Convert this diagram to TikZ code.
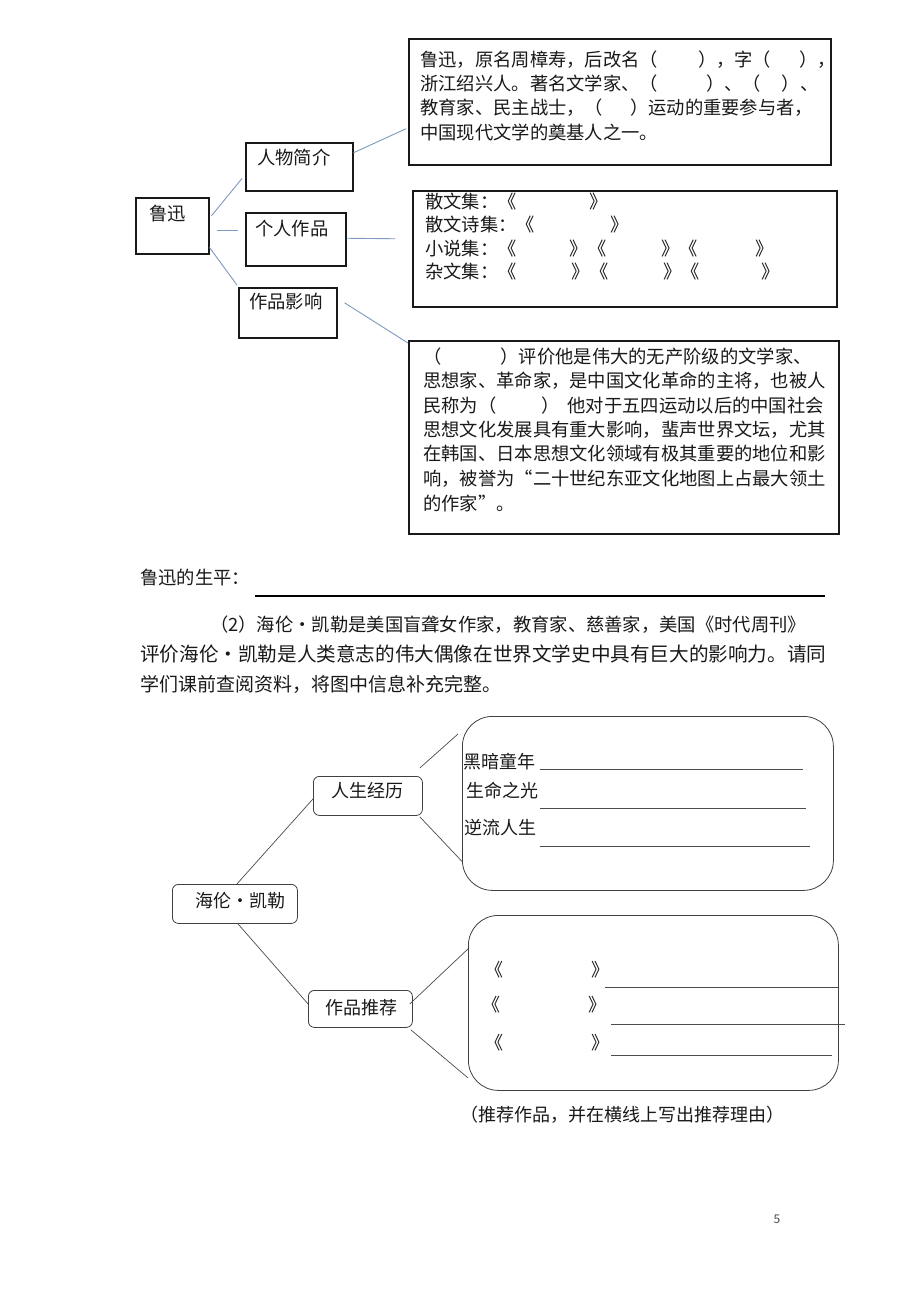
\documentclass[tikz,border=0pt]{standalone}
\usepackage{fontspec}
\newfontfamily\cjk{Noto Sans CJK SC}
\usetikzlibrary{calc}
\newcommand\gp[1]{\hspace*{#1pt}}
\definecolor{lnblue}{RGB}{125,155,190}
\begin{document}
\begin{tikzpicture}[x=1pt,y=-1pt,
 box/.style={draw=black!90,line width=1.5pt,inner sep=0pt,anchor=north west},
 rbox/.style={draw=black!75,line width=0.8pt,inner sep=0pt,anchor=north west,rounded corners=#1},
 txt/.style={anchor=west,inner sep=0pt,font=\cjk\fontsize{18.3}{22}\selectfont,text=black!90},
 ptxt/.style={txt,font=\cjk\fontsize{19}{22}\selectfont},
 btxt/.style={txt,font=\cjk\fontsize{18}{22}\selectfont},
 bl/.style={draw=lnblue,line width=0.9pt},
 kl/.style={draw=black!70,line width=0.7pt},
 ul/.style={draw=black!70,line width=0.8pt}]
\useasboundingbox[fill=white] (0,0) rectangle (920,1302);

% ---- top diagram boxes
\node[box,minimum width=422pt,minimum height=126pt] (intro) at (408,38) {};
\node[box,minimum width=107pt,minimum height=48pt] (rw) at (245,142) {};
\node[box,minimum width=73pt,minimum height=56pt] (lx) at (135,197) {};
\node[box,minimum width=100pt,minimum height=53pt] (zp) at (245,212) {};
\node[box,minimum width=98pt,minimum height=50pt] (yx) at (238,287) {};
\node[box,minimum width=424pt,minimum height=116pt] (works) at (412,190) {};
\node[box,minimum width=430pt,minimum height=193pt] (infl) at (408,340) {};

\node[txt] (t-rw) at (257,157) {人物简介};
\node[txt] (t-lx) at (149,214) {鲁迅};
\node[txt] (t-zp) at (255,229) {个人作品};
\node[txt] (t-yx) at (249,302) {作品影响};

\draw[bl] ([shift={(2pt,10pt)}]lx.east) -- ([shift={(-3pt,13pt)}]rw.south west);
\draw[bl] ([shift={(7pt,-5pt)}]lx.east) -- ([shift={(-7pt,8.5pt)}]zp.west);
\draw[bl] ([yshift=7pt]lx.south east) -- ([shift={(-1pt,2pt)}]yx.north west);
\draw[bl] ([yshift=14pt]rw.east) -- ([shift={(-2pt,-27pt)}]intro.west);
\draw[bl] ([yshift=1pt]zp.east) -- ([shift={(-17pt,10pt)}]works.west);
\draw[bl] ([shift={(7pt,10pt)}]yx.east) -- ([yshift=-3pt]infl.north west);

\node[txt] (i1) at (420,60) {鲁迅，原名周樟寿，后改名（\gp{40}），字（\gp{28}），};
\node[txt] (i2) at (420,84) {浙江绍兴人。著名文学家、（\gp{48}）、（\gp{21}）、};
\node[txt] (i3) at (420,108) {教育家、民主战士，（\gp{27}）运动的重要参与者，};
\node[txt] (i4) at (420,132) {中国现代文学的奠基人之一。};

\node[txt] (w1) at (425,202) {散文集：《\gp{73}》};
\node[txt] (w2) at (425,225) {散文诗集：《\gp{75}》};
\node[txt] (w3) at (425,249) {小说集：《\gp{53}》《\gp{55}》《\gp{58}》};
\node[txt] (w4) at (425,272) {杂文集：《\gp{55}》《\gp{55}》《\gp{62}》};

\node[txt] (f1) at (423,357) {（\gp{59}）评价他是伟大的无产阶级的文学家、};
\node[txt] (f2) at (423,381) {思想家、革命家，是中国文化革命的主将，也被人};
\node[txt] (f3) at (423,406) {民称为（\gp{45}）\gp{8}他对于五四运动以后的中国社会};
\node[txt] (f4) at (423,430) {思想文化发展具有重大影响，蜚声世界文坛，尤其};
\node[txt] (f5) at (423,454) {在韩国、日本思想文化领域有极其重要的地位和影};
\node[txt] (f6) at (423,479) {响，被誉为“二十世纪东亚文化地图上占最大领土};
\node[txt] (f7) at (423,503) {的作家”。};

% ---- middle text
\node[txt] (sp) at (140,578) {鲁迅的生平：};
\coordinate (sp1) at (255,596);
\coordinate (sp2) at (825,596);
\draw[line width=2pt] (sp1) -- (sp2);

\node[ptxt,font=\cjk\fontsize{18.3}{22}\selectfont] (p1) at (210,625) {（2）海伦・凯勒是美国盲聋女作家，教育家、慈善家，美国《时代周刊》};
\node[ptxt,font=\cjk\fontsize{19.6}{22}\selectfont] (p2) at (140,654) {评价海伦・凯勒是人类意志的伟大偶像在世界文学史中具有巨大的影响力。请同};
\node[ptxt] (p3) at (140,684) {学们课前查阅资料，将图中信息补充完整。};

% ---- bottom diagram
\node[rbox=6pt,minimum width=125pt,minimum height=39pt] (hk) at (172,884) {};
\node[rbox=6pt,minimum width=109pt,minimum height=39pt] (rs) at (313,776) {};
\node[rbox=30pt,minimum width=371pt,minimum height=174pt] (bA) at (462,716) {};
\node[rbox=6pt,minimum width=104pt,minimum height=37pt] (tj) at (308,990) {};
\node[rbox=30pt,minimum width=370pt,minimum height=175pt] (bB) at (468,915) {};

\node[btxt] (t-hk) at (195,901) {海伦・凯勒};
\node[btxt] (t-rs) at (331,791) {人生经历};
\node[btxt] (t-tj) at (325,1008) {作品推荐};

\draw[kl] ([xshift=2pt]hk.north) -- ([yshift=-3pt]rs.west);
\draw[kl] ([shift={(-3pt,8pt)}]rs.north east) -- ([shift={(-4pt,-18pt)}]bA.north west);
\draw[kl] ([shift={(-3pt,-1pt)}]rs.south east) -- ([yshift=-58pt]bA.west);
\draw[kl] ([xshift=3pt]hk.south) -- ([yshift=5pt]tj.west);
\draw[kl] ([shift={(-3pt,5pt)}]tj.east) -- ([yshift=54pt]bB.west);
\draw[kl] ([shift={(-2pt,-2pt)}]tj.south east) -- ([yshift=-75pt]bB.west);

\node[btxt] (a1) at (463,762) {黑暗童年};
\node[btxt] (a2) at (466,791) {生命之光};
\node[btxt] (a3) at (464,828) {逆流人生};
\draw[ul] (540,769) -- (803,769);
\draw[ul] (540,808) -- (806,808);
\draw[ul] (540,846) -- (810,846);

\node[btxt] (b1) at (485,970) {《\gp{88}》};
\node[btxt] (b2) at (482,1005) {《\gp{88}》};
\node[btxt] (b3) at (485,1043) {《\gp{88}》};
\draw[ul] (605,987) -- (838,987);
\draw[ul] (611,1024) -- (845,1024);
\draw[ul] (611,1055) -- (832,1055);

\node[btxt] (cap) at (460,1115) {（推荐作品，并在横线上写出推荐理由）};
\node[font=\cjk\fontsize{12}{13}\selectfont,text=black!70] (pg) at (777,1219) {5};
\end{tikzpicture}
\end{document}
